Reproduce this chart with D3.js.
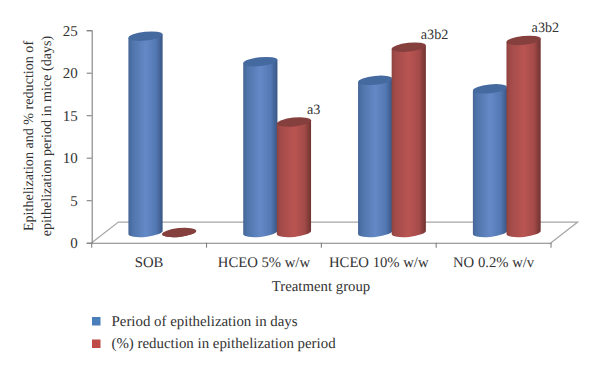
<!DOCTYPE html>
<html>
<head>
<meta charset="utf-8">
<script src="https://cdn.jsdelivr.net/npm/d3@7/dist/d3.min.js"></script>
<style>
html,body{margin:0;padding:0;background:#fff;}
svg{display:block;}
text{font-family:"Liberation Serif",serif;fill:#333;text-rendering:geometricPrecision;}
</style>
</head>
<body>
<svg id="c" width="600" height="372"></svg>
<script>
const categories = ["SOB", "HCEO 5% w/w", "HCEO 10% w/w", "NO 0.2% w/v"];
const periodDays = [23.1, 20.1, 17.9, 16.9];
const reductionPct = [0, 13.0, 21.8, 22.6];
const notes = ["", "a3", "a3b2", "a3b2"];
const seriesNames = ["Period of epithelization in days", "(%) reduction in epithelization period"];
const yTicks = [0, 5, 10, 15, 20, 25];

const svg = d3.select("#c");
const x = d3.scaleBand().domain(categories).range([91.7, 551]);
const y = d3.scaleLinear().domain([0, 25]).range([242.7, 30.2]);
const depth = {dx: 13.2, dy: -10.2, backX: 26.7, backY: -20.6};
const barW = 33.6, rx = 17.2, ry = 4.4, tilt = -6;
const noteNudge = [0, 0, -1, -5];
const sinT = Math.sin(tilt * Math.PI / 180), cosT = Math.cos(tilt * Math.PI / 180);

const defs = svg.append("defs");
function grad(id, stops) {
  const g = defs.append("linearGradient").attr("id", id).attr("x1", 0).attr("x2", 1).attr("y1", 0).attr("y2", 0);
  stops.forEach(s => g.append("stop").attr("offset", s[0]).attr("stop-color", s[1]));
}
grad("gb", [[0, "#456696"], [0.12, "#4f74ab"], [0.5, "#6489c6"], [0.8, "#5379b4"], [1, "#3a5684"]]);
grad("gr", [[0, "#8f4240"], [0.12, "#a34c4a"], [0.5, "#b95452"], [0.8, "#a54c4a"], [1, "#6f3230"]]);
defs.append("filter").attr("id", "soft").append("feGaussianBlur").attr("stdDeviation", 0.35);

// floor
const x0 = x.range()[0], x1 = x.range()[1], y0 = y(0);
svg.append("path")
  .attr("d", `M${x0},${y0}L${x0 + depth.backX},${y0 + depth.backY}L${x1 + depth.backX},${y0 + depth.backY}L${x1},${y0}`)
  .attr("fill", "none").attr("stroke", "#a6a6a6").attr("stroke-width", 1.2);

// axes
const ax = svg.append("g").attr("transform", `translate(${x0},0)`)
  .call(d3.axisLeft(y).tickValues(yTicks).tickSize(5).tickPadding(9));
ax.selectAll("path,line").attr("stroke", "#808080").attr("stroke-width", 1.1);
ax.selectAll("text").attr("font-size", 15).attr("fill", "#333");
ax.selectAll(".tick text").attr("dy", "0.32em");

const bx = svg.append("g").attr("transform", `translate(0,${y0})`)
  .call(d3.axisBottom(x).tickSize(0).tickPadding(12));
bx.selectAll("path").attr("stroke", "#808080").attr("stroke-width", 1.1);
bx.selectAll("text").attr("font-size", 14.7).attr("fill", "#333");
bx.selectAll("text").attr("dy", "0.85em");
const edges = categories.map(c => x(c)).concat([x1]);
svg.append("g").selectAll("line").data(edges).join("line")
  .attr("x1", d => d).attr("x2", d => d).attr("y1", y0).attr("y2", y0 + 5)
  .attr("stroke", "#808080").attr("stroke-width", 1.1);

// cylinders
function cyl(cat, v, offs, fill, topFill) {
  const cx = x(cat) + x.bandwidth() / 2 + depth.dx + offs;
  const base = y(0) + depth.dy;
  const top = y(v) + depth.dy;
  const g = svg.append("g").attr("filter", "url(#soft)");
  const lx = cx - rx * cosT, rxx = cx + rx * cosT, ly = -rx * sinT, ry2 = rx * sinT;
  g.append("path")
    .attr("d", `M${lx},${top + ly}L${lx},${base + ly}A${rx},${ry} ${tilt} 0 0 ${rxx},${base + ry2}L${rxx},${top + ry2}Z`)
    .attr("fill", v > 0 ? fill : topFill);
  g.append("ellipse")
    .attr("cx", cx).attr("cy", top).attr("rx", rx).attr("ry", ry)
    .attr("transform", `rotate(${tilt} ${cx} ${top})`)
    .attr("fill", topFill);
  return {cx, top};
}
const half = barW / 2;
categories.forEach((c, i) => {
  cyl(c, periodDays[i], -half, "url(#gb)", "#456a9f");
});
categories.forEach((c, i) => {
  const t = cyl(c, reductionPct[i], half, "url(#gr)", "#853f3e");
  if (notes[i]) {
    svg.append("text").attr("x", t.cx + 13 + noteNudge[i]).attr("y", t.top - 8)
      .attr("font-size", 14.2).text(notes[i]);
  }
});

// titles
svg.append("text").attr("x", 321).attr("y", 291).attr("text-anchor", "middle")
  .attr("font-size", 14.8).text("Treatment group");
const yt = svg.append("text").attr("transform", "translate(32.5,136) rotate(-90)")
  .attr("text-anchor", "middle").attr("font-size", 14.1);
yt.append("tspan").attr("x", 0).attr("y", 0).text("Epithelization and % reduction of");
yt.append("tspan").attr("x", 0).attr("y", 18).text("epithelization period in mice (days)");

// legend
const legendColors = ["#4a7ebb", "#be4b48"];
const lg = svg.append("g").selectAll("g").data(seriesNames).join("g")
  .attr("transform", (d, i) => `translate(92,${317 + i * 22.5})`);
lg.append("rect").attr("width", 8.5).attr("height", 8.5).attr("fill", (d, i) => legendColors[i]);
lg.append("text").attr("x", 19.5).attr("y", 8.5).attr("font-size", 14.9).text(d => d);
</script>
</body>
</html>
